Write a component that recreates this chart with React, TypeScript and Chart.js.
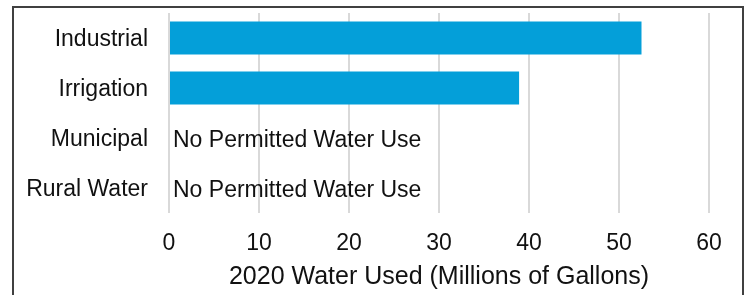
import React, { useEffect, useRef } from "react";
import { Chart, registerables } from "chart.js";

Chart.register(...registerables);

const categories = ["Industrial", "Irrigation", "Municipal", "Rural Water"];
const waterUsed: (number | null)[] = [52.5, 38.9, null, null];
const noteLabels = ["", "", "No Permitted Water Use", "No Permitted Water Use"];
const xTicks = [0, 10, 20, 30, 40, 50, 60];
const xTitle = "2020 Water Used (Millions of Gallons)";

const FONT = "'Liberation Sans', Arial, sans-serif";

const notePlugin = {
  id: "notes",
  afterDatasetsDraw(chart: any) {
    const { ctx, scales } = chart;
    const xs = scales.x;
    const ys = scales.y;
    ctx.save();
    ctx.font = `23px ${FONT}`;
    ctx.fillStyle = "#111";
    ctx.textAlign = "left";
    ctx.textBaseline = "middle";
    noteLabels.forEach((t, i) => {
      if (!t) return;
      ctx.fillText(t, xs.getPixelForValue(0) + 4, ys.getPixelForValue(i) + 3);
    });
    ctx.restore();
  },
};

export default function App() {
  const ref = useRef<HTMLCanvasElement>(null);
  useEffect(() => {
    if (!ref.current) return;
    const chart = new Chart(ref.current, {
      type: "bar",
      data: {
        labels: categories,
        datasets: [
          {
            data: waterUsed as any,
            backgroundColor: "#049FD9",
            borderWidth: 0,
            barPercentage: 0.66,
            categoryPercentage: 1,
          },
        ],
      },
      options: {
        indexAxis: "y",
        animation: false,
        responsive: false,
        layout: { padding: { left: 0, right: 33, top: 5, bottom: 0 } },
        plugins: { legend: { display: false }, tooltip: { enabled: false } },
        scales: {
          x: {
            min: 0,
            max: 60,
            afterBuildTicks: (s: any) => {
              s.ticks = xTicks.map((v) => ({ value: v }));
            },
            afterFit: (s: any) => {
              s.height = 82;
              s.paddingLeft = 0;
              s.paddingRight = 0;
              s.paddingTop = 0;
              s.paddingBottom = 0;
            },
            grid: { color: "#D9D9D9", lineWidth: 2, drawTicks: false },
            border: { display: false },
            ticks: { color: "#111", font: { family: FONT, size: 23 }, padding: 17, maxRotation: 0 },
            title: {
              display: true,
              text: xTitle,
              color: "#111",
              font: { family: FONT, size: 25 },
              padding: { top: 0, bottom: 3 },
            },
          },
          y: {
            afterFit: (s: any) => {
              s.width = 155;
              s.paddingLeft = 0;
              s.paddingRight = 0;
              s.paddingTop = 0;
              s.paddingBottom = 0;
            },
            grid: { display: false, drawTicks: false },
            border: { display: false },
            ticks: { color: "#111", font: { family: FONT, size: 23 }, padding: 21, labelOffset: 2 },
          },
        },
      },
      plugins: [notePlugin],
    });
    return () => chart.destroy();
  }, []);
  return (
    <div
      style={{
        position: "absolute",
        left: 12,
        top: 6,
        width: 732,
        height: 300,
        border: "2px solid #404040",
        boxSizing: "border-box",
        background: "#fff",
      }}
    >
      <canvas ref={ref} width={728} height={287} style={{ display: "block" }} />
    </div>
  );
}
